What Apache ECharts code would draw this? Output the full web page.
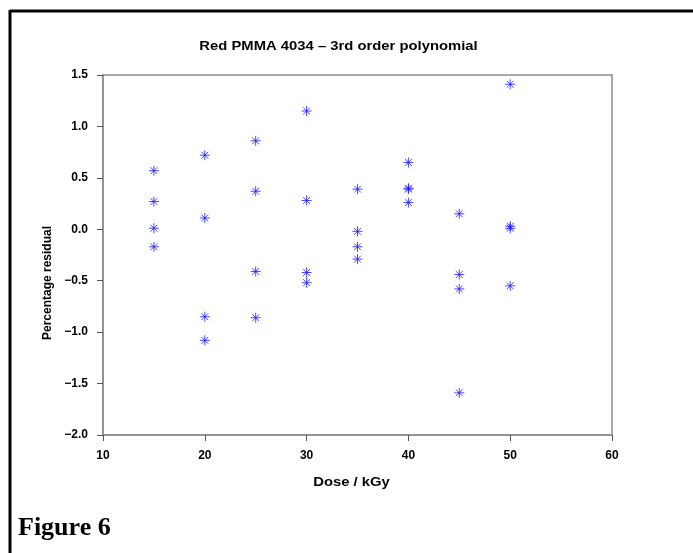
<!DOCTYPE html>
<html>
<head>
<meta charset="utf-8">
<script src="https://cdn.jsdelivr.net/npm/echarts@6/dist/echarts.min.js"></script>
<style>
  html, body { margin: 0; padding: 0; background: #ffffff; }
  #chart { width: 693px; height: 553px; }
</style>
</head>
<body>
<div id="chart"></div>
<script>
// Residuals of a 3rd order polynomial fit, four replicates per dose
const doses = [15, 20, 25, 30, 35, 40, 45, 50];
const residualsAt15 = [0.57, 0.27, 0.01, -0.17];
const residualsAt20 = [0.72, 0.11, -0.85, -1.08];
const residualsAt25 = [0.86, 0.37, -0.41, -0.86];
const residualsAt30 = [1.15, 0.28, -0.42, -0.52];
const residualsAt35 = [0.39, -0.02, -0.17, -0.29];
const residualsAt40 = [0.65, 0.40, 0.39, 0.26];
const residualsAt45 = [0.15, -0.44, -0.58, -1.59];
const residualsAt50 = [1.41, 0.03, 0.01, -0.55];
const residualGroups = [residualsAt15, residualsAt20, residualsAt25, residualsAt30,
                        residualsAt35, residualsAt40, residualsAt45, residualsAt50];

const xTicks = [10, 20, 30, 40, 50, 60];
const yTicks = [-2.0, -1.5, -1.0, -0.5, 0.0, 0.5, 1.0, 1.5];

const points = [];
doses.forEach((d, i) => residualGroups[i].forEach(r => points.push([d, r])));

// eight-spoke asterisk marker
const asterisk = 'path://M0,5L10,5M5,0L5,10M1.6,1.6L8.4,8.4M8.4,1.6L1.6,8.4';

const sansBold = '"Liberation Sans", Arial, sans-serif';
const tickFont = { fontFamily: sansBold, fontWeight: 'bold', fontSize: 12, color: '#000' };
const nameFont = 'bold 13px ' + sansBold;
const fmtNum = (v, digits) => {
  const s = Math.abs(v).toFixed(digits);
  return (v < 0 ? '\u2212' : '') + s;
};

const chart = echarts.init(document.getElementById('chart'), null, { renderer: 'canvas' });
chart.setOption({
  backgroundColor: '#ffffff',
  animation: false,
  grid: {
    left: 103, top: 75, right: 81, bottom: 118,
    show: true, borderColor: '#8c8c8c', borderWidth: 1.5, backgroundColor: '#ffffff'
  },
  xAxis: {
    type: 'value',
    min: xTicks[0], max: xTicks[xTicks.length - 1], interval: 10,
    axisLine: { show: true, onZero: false, lineStyle: { color: '#8c8c8c', width: 1.5 } },
    axisTick: { show: true, length: 6, lineStyle: { color: '#555' } },
    splitLine: { show: false },
    axisLabel: Object.assign({ margin: 15, formatter: v => String(v) }, tickFont)
  },
  yAxis: {
    type: 'value',
    min: yTicks[0], max: yTicks[yTicks.length - 1], interval: 0.5,
    axisLine: { show: true, onZero: false, lineStyle: { color: '#8c8c8c', width: 1.5 } },
    axisTick: { show: true, length: 6, lineStyle: { color: '#555' } },
    splitLine: { show: false },
    axisLabel: Object.assign({ margin: 15, formatter: v => fmtNum(v, 1) }, tickFont)
  },
  series: [{
    type: 'scatter',
    data: points,
    symbol: asterisk,
    symbolSize: 10,
    itemStyle: { color: 'rgba(0,0,0,0)', borderColor: '#1a1aff', borderWidth: 1 }
  }],
  graphic: [
    // outer frame (top and left edges)
    { type: 'line', shape: { x1: 10, y1: 11, x2: 693, y2: 11 }, style: { stroke: '#000', lineWidth: 3 } },
    { type: 'line', shape: { x1: 10, y1: 10, x2: 10, y2: 553 }, style: { stroke: '#000', lineWidth: 3 } },
    {
      type: 'text', x: 338.5, y: 46, scaleX: 1.14,
      style: { text: 'Red PMMA 4034 \u2013 3rd order polynomial', align: 'center', verticalAlign: 'middle',
               font: nameFont, fill: '#000' }
    },
    {
      type: 'text', x: 351.5, y: 482.5, scaleX: 1.14,
      style: { text: 'Dose / kGy', align: 'center', verticalAlign: 'middle',
               font: nameFont, fill: '#000' }
    },
    {
      type: 'text', x: 48, y: 283, rotation: Math.PI / 2,
      style: { text: 'Percentage residual', align: 'center', verticalAlign: 'middle',
               font: 'bold 12px ' + sansBold, fill: '#000' }
    },
    {
      type: 'text', x: 18, y: 528,
      style: { text: 'Figure 6', align: 'left', verticalAlign: 'middle',
               font: 'bold 26px "Liberation Serif", "Times New Roman", serif', fill: '#000' }
    }
  ]
});
</script>
</body>
</html>
